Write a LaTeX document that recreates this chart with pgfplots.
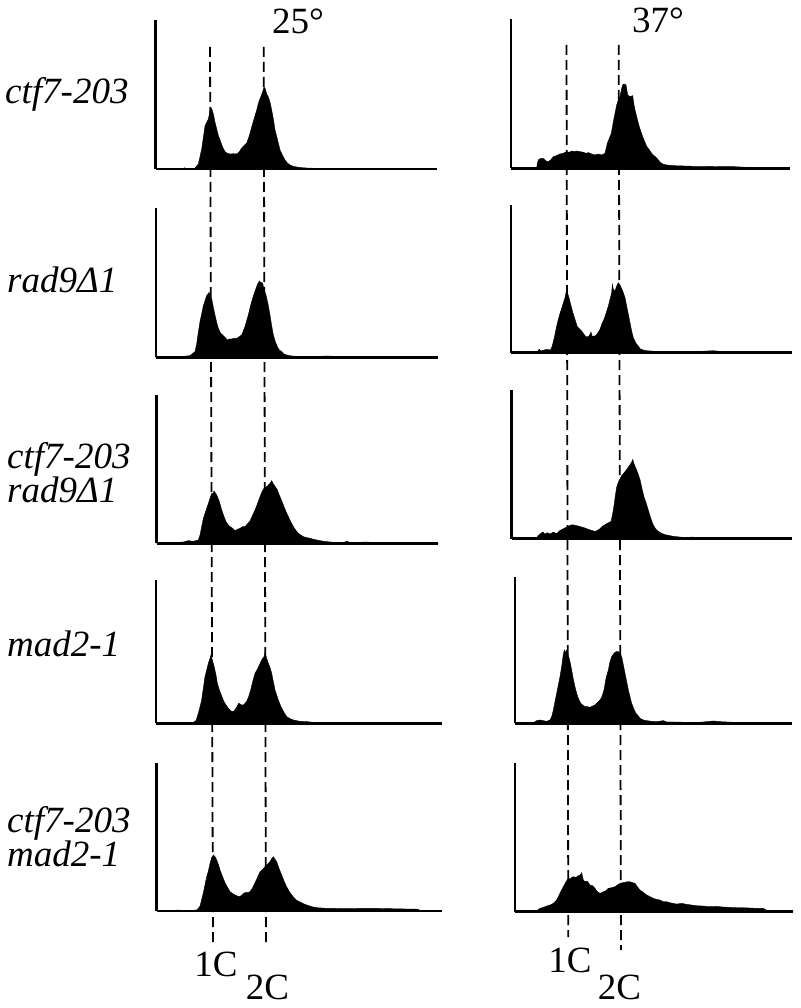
\documentclass[border=0pt]{standalone}
\usepackage{fontspec}
\setmainfont{Liberation Serif}
\usepackage{pgfplots}
\pgfplotsset{compat=1.18}

% histogram panels: x in scan units, y = counts above baseline (3 units = 1pt)
\pgfplotsset{
    hist/.style={
        x=0.333333pt, y=0.333333pt,
        anchor=south west,
        axis x line=bottom, axis y line=left,
        axis line style={line width=2.6pt, -},
        xtick=\empty, ytick=\empty,
        ymin=0, clip=false,
    },
    bars/.style={fill=black, draw=black, line width=0.4pt, mark=none},
}
\newcommand{\lab}{\fontsize{37}{39}\selectfont}

\begin{document}
\begin{tikzpicture}
\useasboundingbox (0,0) rectangle (800pt,-1008pt);

% ---- 25 degrees ----
\begin{axis}[hist, at={(155.7pt,-169pt)}, xmin=47, xmax=890, ymax=447]
\addplot[bars] coordinates {
(47,0) (130,0) (133,4) (136,0) (160,0) (165,3) (175,15) (185,60) (195,130) (200,140)
(205,150) (210,175) (212,185) (216,178) (220,165) (225,140) (230,120) (235,100) (240,87)
(248,65) (255,52) (262,47) (270,45) (280,46) (290,45) (298,52) (305,63) (312,70) (320,78)
(328,100) (335,126) (342,150) (350,177) (356,200) (362,216) (368,232) (372,246) (376,240)
(380,225) (385,216) (390,200) (395,177) (400,150) (405,117) (412,90) (420,57) (428,40)
(435,27) (442,18) (450,12) (460,8) (470,6) (485,4) (500,3) (530,2) (600,1) (700,1) (890,0)
} \closedcycle;
\end{axis}

\begin{axis}[hist, at={(156pt,-357.3pt)}, xmin=48, xmax=893, ymax=447]
\addplot[bars] coordinates {
(48,0) (130,3) (150,5) (165,17) (170,40) (175,75) (180,107) (185,130) (190,155) (195,170)
(200,185) (204,190) (207,195) (211,185) (215,177) (220,150) (225,127) (230,105) (235,87)
(242,72) (248,67) (255,60) (262,52) (268,55) (275,55) (282,57) (290,57) (298,62) (305,67)
(310,80) (315,92) (320,110) (325,127) (330,148) (335,167) (342,190) (348,207) (353,220)
(358,229) (362,225) (368,222) (373,200) (378,187) (384,160) (390,127) (395,95) (400,67)
(406,47) (412,32) (418,22) (425,17) (432,10) (440,7) (455,4) (470,3) (520,2) (560,4)
(600,2) (700,1) (893,0)
} \closedcycle;
\end{axis}

\begin{axis}[hist, at={(156.7pt,-543.3pt)}, xmin=50, xmax=895, ymax=445]
\addplot[bars] coordinates {
(50,0) (100,2) (130,4) (145,8) (160,6) (175,10) (180,25) (185,50) (190,75) (195,90)
(200,105) (205,120) (210,135) (215,150) (219,150) (222,157) (228,148) (232,140) (238,125)
(245,100) (252,80) (258,65) (265,55) (270,50) (278,45) (285,38) (292,42) (300,45) (308,50)
(315,50) (322,58) (330,67) (338,85) (345,100) (352,118) (360,140) (366,155) (372,165)
(380,170) (385,175) (390,180) (395,188) (400,178) (405,171) (412,160) (418,144) (425,128)
(430,115) (438,95) (445,80) (452,65) (460,50) (468,38) (475,30) (482,25) (490,20) (500,17)
(510,15) (520,12) (530,10) (545,7) (560,5) (580,3) (600,2) (615,4) (620,6) (630,3)
(660,3) (680,4) (700,2) (895,0)
} \closedcycle;
\end{axis}

\begin{axis}[hist, at={(156pt,-723.3pt)}, xmin=48, xmax=905, ymax=430]
\addplot[bars] coordinates {
(48,0) (150,2) (160,3) (168,8) (175,30) (180,50) (185,70) (190,105) (195,140) (200,160)
(205,180) (210,195) (213,205) (217,190) (222,172) (228,145) (232,120) (238,100) (245,82)
(252,65) (258,55) (265,45) (270,40) (276,35) (282,37) (288,45) (292,52) (296,60) (300,58)
(305,55) (310,55) (315,60) (320,66) (326,80) (332,100) (338,125) (345,150) (352,162)
(358,175) (364,188) (368,195) (372,200) (375,212) (380,195) (385,180) (390,168) (395,150)
(400,125) (405,100) (410,85) (415,70) (422,52) (428,40) (435,28) (440,20) (450,14)
(460,10) (470,8) (480,6) (500,5) (520,3) (600,2) (700,1) (905,0)
} \closedcycle;
\end{axis}

\begin{axis}[hist, at={(156.7pt,-911pt)}, xmin=50, xmax=905, ymax=443]
\addplot[bars] coordinates {
(50,0) (120,3) (125,0) (170,3) (175,8) (180,15) (185,35) (190,55) (195,80) (200,103)
(205,120) (210,143) (215,160) (220,168) (225,163) (230,153) (235,140) (240,123) (245,110)
(250,97) (255,85) (262,72) (270,58) (278,52) (285,48) (292,45) (300,43) (305,48) (310,52)
(315,55) (322,55) (330,58) (338,70) (345,85) (352,100) (360,118) (368,125) (375,133)
(382,140) (390,148) (395,157) (400,163) (405,155) (410,148) (418,125) (425,108) (432,90)
(440,72) (450,55) (460,42) (470,32) (480,27) (490,22) (500,18) (515,13) (530,10) (545,9)
(560,8) (580,8) (600,7) (630,7) (660,8) (700,8) (750,7) (800,6) (825,6) (835,5) (840,1)
(905,0)
} \closedcycle;
\end{axis}

% ---- 37 degrees ----
\begin{axis}[hist, at={(511pt,-168.3pt)}, xmin=33, xmax=870, ymax=448]
\addplot[bars] coordinates {
(33,0) (110,0) (112,15) (115,25) (122,30) (130,30) (138,22) (145,20) (152,25) (160,35)
(170,38) (180,43) (190,45) (200,50) (208,48) (215,52) (222,50) (230,52) (240,50) (250,48)
(258,45) (265,47) (275,43) (285,40) (295,43) (305,40) (315,45) (322,75) (328,90) (334,105)
(340,140) (345,165) (350,190) (355,205) (360,215) (365,240) (368,250) (372,253) (378,250)
(383,220) (390,215) (398,218) (402,190) (405,175) (410,155) (415,135) (420,118) (428,95)
(435,78) (440,66) (448,55) (455,45) (462,38) (468,33) (475,25) (482,17) (490,12) (500,10)
(520,8) (550,7) (580,6) (620,6) (660,5) (700,5) (740,3) (800,2) (870,0)
} \closedcycle;
\end{axis}

\begin{axis}[hist, at={(511pt,-352.7pt)}, xmin=33, xmax=875, ymax=443]
\addplot[bars] coordinates {
(33,0) (110,2) (118,10) (122,5) (132,8) (140,10) (150,8) (155,15) (160,33) (165,55)
(170,80) (175,100) (180,118) (185,133) (190,150) (195,165) (198,180) (200,190) (203,178)
(207,165) (212,145) (218,122) (225,100) (232,78) (238,72) (245,65) (252,55) (258,48)
(265,48) (270,55) (273,62) (276,50) (285,50) (292,57) (300,70) (305,85) (312,100)
(318,118) (325,140) (330,160) (335,180) (337,205) (340,190) (345,185) (350,200) (355,210)
(360,203) (365,192) (370,180) (375,165) (380,140) (385,115) (390,90) (395,65) (400,45)
(408,28) (415,20) (420,12) (430,8) (440,6) (470,4) (520,4) (600,4) (640,6) (660,4) (875,0)
} \closedcycle;
\end{axis}

\begin{axis}[hist, at={(511.7pt,-538.7pt)}, xmin=35, xmax=875, ymax=446]
\addplot[bars] coordinates {
(35,0) (110,0) (113,8) (120,14) (128,20) (135,14) (142,18) (150,14) (160,20) (170,15)
(180,25) (190,30) (200,35) (210,40) (218,42) (225,40) (235,38) (245,35) (255,32) (265,28)
(275,25) (285,22) (292,25) (300,30) (308,38) (315,42) (325,48) (333,52) (338,75) (342,100)
(346,130) (350,155) (355,170) (360,180) (365,190) (370,195) (378,205) (385,215) (390,222)
(395,230) (398,238) (402,225) (408,210) (414,195) (420,177) (426,150) (432,125) (438,108)
(445,85) (452,62) (458,45) (465,32) (470,26) (478,20) (485,16) (495,12) (505,10) (520,7)
(540,5) (560,3) (575,5) (600,3) (700,2) (875,0)
} \closedcycle;
\end{axis}

\begin{axis}[hist, at={(515pt,-723.3pt)}, xmin=45, xmax=875, ymax=440]
\addplot[bars] coordinates {
(45,0) (100,2) (110,8) (120,10) (130,8) (140,6) (150,10) (155,20) (160,40) (165,65)
(170,90) (175,115) (180,140) (185,170) (190,208) (193,220) (197,212) (200,220) (205,205)
(210,185) (215,160) (220,132) (225,110) (230,90) (235,75) (242,60) (248,55) (255,50)
(262,50) (270,48) (278,52) (285,55) (292,62) (300,70) (305,78) (312,100) (318,135)
(325,160) (330,185) (335,200) (342,210) (348,215) (355,215) (360,210) (365,200) (370,175)
(375,150) (380,125) (385,100) (390,80) (395,60) (402,42) (408,30) (415,22) (420,15)
(430,10) (440,8) (455,6) (470,5) (490,8) (500,4) (520,4) (560,3) (600,3) (640,7) (660,5)
(700,3) (875,0)
} \closedcycle;
\end{axis}

\begin{axis}[hist, at={(515pt,-911.7pt)}, xmin=45, xmax=880, ymax=445]
\addplot[bars] coordinates {
(45,0) (110,3) (120,10) (130,13) (140,17) (150,20) (160,25) (170,35) (175,45) (182,60)
(190,75) (198,90) (205,100) (210,98) (215,103) (220,105) (228,103) (235,108) (240,110)
(245,117) (250,95) (255,90) (262,92) (270,80) (278,78) (285,70) (292,60) (300,55)
(310,60) (318,63) (325,70) (335,72) (345,75) (352,80) (360,85) (368,87) (375,88) (382,90)
(390,90) (398,87) (405,85) (412,75) (420,65) (430,58) (440,50) (450,45) (460,40) (470,37)
(480,35) (490,30) (500,30) (510,27) (520,25) (530,23) (545,25) (560,22) (575,20) (590,18)
(610,17) (630,15) (650,16) (670,14) (690,13) (710,12) (730,12) (750,11) (770,10) (790,10)
(800,4) (880,0)
} \closedcycle;
\end{axis}

% 1C / 2C guide lines
\begin{scope}[line width=1.8pt, dash pattern=on 10pt off 5pt]
\draw (210pt,-47pt) -- (213pt,-945pt);
\draw (263.7pt,-47pt) -- (266pt,-945pt);
\draw (566.5pt,-45pt) -- (568.3pt,-937pt);
\draw (618.7pt,-45pt) -- (621pt,-950pt);
\end{scope}

% labels
\node[anchor=base] at (298pt,-34pt) {\lab 25°};
\node[anchor=base] at (658pt,-33pt) {\lab 37°};
\node[anchor=base] at (216pt,-976pt) {\lab 1C};
\node[anchor=base] at (267.5pt,-999pt) {\lab 2C};
\node[anchor=base] at (570pt,-972pt) {\lab 1C};
\node[anchor=base] at (619.5pt,-999pt) {\lab 2C};

\begin{scope}[every node/.style={anchor=base west, inner sep=0pt}]
\node at (5pt,-104pt) {\lab\itshape ctf7-203};
\node at (7pt,-292pt) {\lab\itshape rad9Δ1};
\node at (7pt,-468pt) {\lab\itshape ctf7-203};
\node at (7pt,-502pt) {\lab\itshape rad9Δ1};
\node at (7pt,-656pt) {\lab\itshape mad2-1};
\node at (7pt,-832pt) {\lab\itshape ctf7-203};
\node at (7pt,-866pt) {\lab\itshape mad2-1};
\end{scope}
\end{tikzpicture}
\end{document}
